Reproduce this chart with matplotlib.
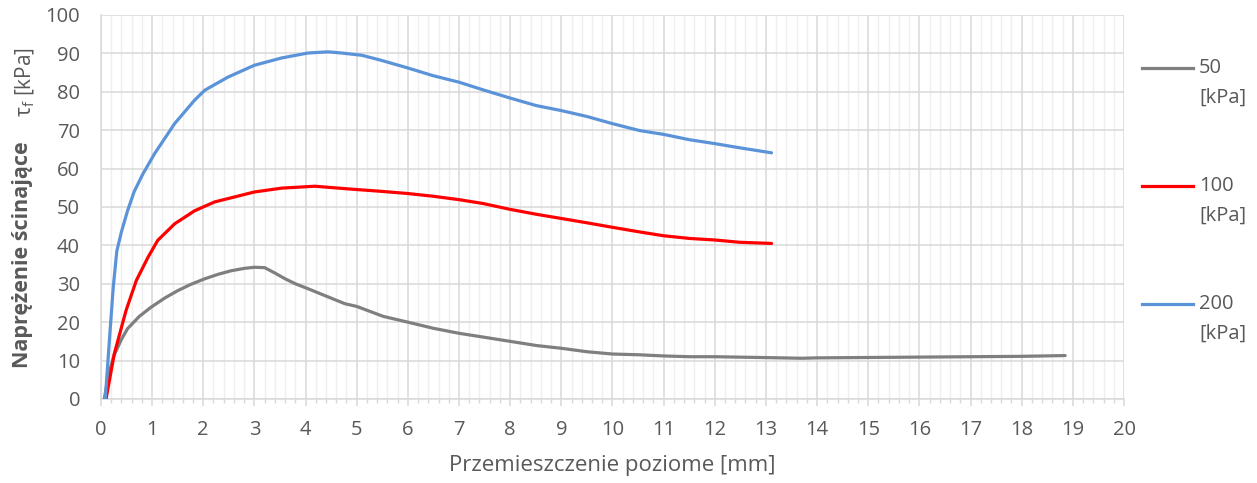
import matplotlib
matplotlib.use("Agg")
import matplotlib.pyplot as plt
from matplotlib.lines import Line2D
from matplotlib.ticker import MultipleLocator

# odczyty z wykresu: przemieszczenie [mm], naprezenie [kPa]
x_50 = [0.065, 0.15, 0.26, 0.4, 0.52, 0.75, 0.98, 1.25, 1.5, 1.75, 2.03, 2.3, 2.55, 2.8, 3.0, 3.2,
        3.4, 3.6, 3.8, 4.05, 4.4, 4.77, 5.0, 5.52, 6.0, 6.5, 7.0, 7.48, 8.0, 8.52, 9.0, 9.5,
        10.0, 10.53, 11.0, 11.51, 12.0, 12.88, 13.3, 13.7, 14.0, 15.0, 16.0, 17.0, 18.0, 18.85]
y_50 = [0, 6.5, 11.5, 15.5, 18.3, 21.5, 23.9, 26.3, 28.2, 29.8, 31.3, 32.5, 33.4, 34.0, 34.3, 34.2,
        32.8, 31.3, 30.0, 28.7, 26.8, 24.8, 24.1, 21.5, 20.0, 18.4, 17.1, 16.1, 15.0, 13.9, 13.2, 12.3,
        11.7, 11.5, 11.2, 11.0, 11.0, 10.8, 10.7, 10.6, 10.7, 10.8, 10.9, 11.0, 11.1, 11.3]

x_100 = [0.1, 0.26, 0.49, 0.69, 0.92, 1.11, 1.44, 1.83, 2.22, 2.61, 3.0, 3.53, 4.18, 4.84, 5.45,
         6.0, 6.49, 7.0, 7.47, 7.99, 8.51, 9.0, 9.49, 10.0, 10.53, 11.0, 11.51, 12.0, 12.49, 13.11]
y_100 = [0, 11.7, 23, 30.8, 36.9, 41.3, 45.6, 49, 51.3, 52.6, 53.9, 54.9, 55.4, 54.7, 54.1,
         53.5, 52.8, 51.9, 50.9, 49.4, 48.1, 47, 45.9, 44.7, 43.5, 42.5, 41.8, 41.4, 40.8, 40.5]

x_200 = [0.085, 0.16, 0.24, 0.31, 0.4, 0.52, 0.65, 0.82, 1.05, 1.44, 1.83, 2.03, 2.48, 3.0, 3.53,
         4.05, 4.44, 4.7, 5.1, 5.45, 6.0, 6.49, 7.0, 7.47, 7.99, 8.51, 9.0, 9.49, 10.0, 10.53,
         11.0, 11.51, 12.0, 12.49, 13.11]
y_200 = [0, 14.3, 29, 38.5, 43.5, 49, 54, 58.6, 63.9, 71.7, 77.8, 80.4, 83.8, 86.9, 88.8,
         90.1, 90.4, 90.1, 89.5, 88.3, 86.2, 84.2, 82.5, 80.5, 78.4, 76.4, 75.1, 73.6, 71.7, 69.9,
         68.9, 67.5, 66.5, 65.4, 64.1]

series = [("50", x_50, y_50, "#7f7f7f"),
          ("100", x_100, y_100, "#ff0000"),
          ("200", x_200, y_200, "#5b93d8")]

plt.rcParams['font.family'] = ['Open Sans', 'DejaVu Sans']
txt = "#595959"

fig = plt.figure(figsize=(12.57, 4.83), dpi=100)
ax = fig.add_axes([0.0803, 0.174, 0.8139, 0.795])

for name, xs, ys, col in series:
    ax.plot(xs, ys, color=col, linewidth=2.3, solid_capstyle='round', zorder=3)

ax.set_xlim(0, 20)
ax.set_ylim(0, 100)
ax.xaxis.set_major_locator(MultipleLocator(1))
ax.xaxis.set_minor_locator(MultipleLocator(0.2))
ax.yaxis.set_major_locator(MultipleLocator(10))
ax.grid(which='major', axis='both', color='#d9d9d9', linewidth=1.1, zorder=0)
ax.grid(which='minor', axis='x', color='#efefef', linewidth=1.0, zorder=0)
ax.set_axisbelow(True)
for s in ['top', 'right']:
    ax.spines[s].set_visible(False)
for s in ['left', 'bottom']:
    ax.spines[s].set_color('#d9d9d9')
    ax.spines[s].set_linewidth(1.1)

ax.tick_params(axis='x', which='major', length=5, color='#d9d9d9', width=1.1,
               labelsize=14.5, labelcolor=txt, pad=10)
ax.tick_params(axis='x', which='minor', length=3, color='#d9d9d9', width=1.0)
ax.tick_params(axis='y', length=0, labelsize=14.5, labelcolor=txt, pad=15)

ax.set_xlabel("Przemieszczenie poziome [mm]", fontsize=16, color=txt, labelpad=11)

# opis osi y: czesc pogrubiona + symbol
fig.text(0.018, 1 - 255 / 483, "Naprężenie ścinające", rotation=90, ha='center', va='center',
         fontsize=15.5, fontweight='bold', color=txt)
fig.text(0.020, 1 - 82 / 483, r"τ$_\mathregular{f}$ [kPa]", rotation=90, ha='center', va='center',
         fontsize=15, color=txt)

# legenda
leg_y = [68, 186, 304]
for (name, xs, ys, col), py in zip(series, leg_y):
    yf = 1 - py / 483
    fig.add_artist(Line2D([1142 / 1257, 1193 / 1257], [yf, yf], color=col, linewidth=2.3,
                          transform=fig.transFigure))
    fig.text(1199 / 1257, yf, name, ha='left', va='center', fontsize=14.5, color=txt)
    fig.text(1199 / 1257, yf - 30 / 483, "[kPa]", ha='left', va='center', fontsize=14.5, color=txt)

fig.savefig("out.png", dpi=100)
